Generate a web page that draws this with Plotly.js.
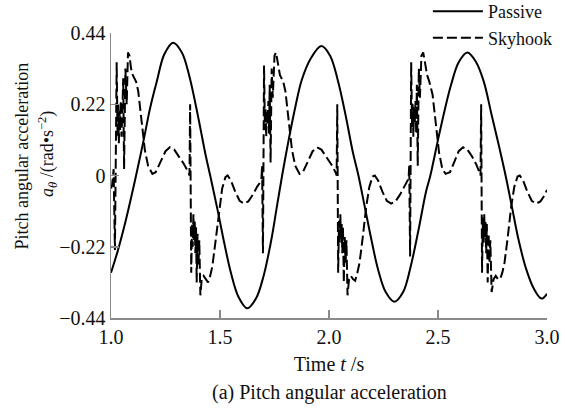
<!DOCTYPE html>
<html>
<head>
<meta charset="utf-8">
<script src="https://cdn.plot.ly/plotly-3.0.1.min.js"></script>
<style>html,body{margin:0;padding:0;background:#fff;}#chart{width:565px;height:410px;}</style>
</head>
<body>
<div id="chart"></div>
<script>
// Passive series (time, pitch angular acceleration)
const passiveT = [1.00,1.03,1.06,1.09,1.115,1.15,1.18,1.21,1.245,1.285,1.325,1.36,1.40,1.435,1.455,1.49,1.52,1.55,1.585,1.625,
  1.665,1.70,1.735,1.76,1.785,1.815,1.845,1.875,1.915,1.965,2.005,2.04,2.075,2.11,2.135,2.165,2.195,2.225,2.26,2.30,
  2.34,2.375,2.41,2.445,2.465,2.50,2.53,2.56,2.595,2.635,2.675,2.71,2.745,2.78,2.81,2.84,2.87,2.905,2.94,2.975,3.00];
const passiveV = [-0.30,-0.235,-0.16,-0.075,0.00,0.11,0.21,0.29,0.375,0.41,0.38,0.305,0.18,0.06,0.00,-0.11,-0.21,-0.30,-0.375,-0.41,
  -0.38,-0.31,-0.20,-0.10,0.00,0.11,0.21,0.295,0.36,0.40,0.37,0.295,0.19,0.07,0.00,-0.10,-0.20,-0.29,-0.36,-0.39,
  -0.36,-0.28,-0.17,-0.05,0.00,0.11,0.20,0.28,0.35,0.38,0.35,0.29,0.19,0.09,0.00,-0.10,-0.20,-0.29,-0.35,-0.38,-0.365];

// Skyhook series
const skyT = [1.000,1.005,1.012,1.018,1.026,1.030,1.033,1.036,1.039,1.042,1.045,1.048,1.052,1.056,1.060,1.066,1.072,1.078,1.085,1.092,
  1.100,1.115,1.125,1.140,1.155,1.170,1.190,1.205,1.225,1.250,1.270,1.290,1.310,1.335,1.355,
  1.360,1.363,1.368,1.372,1.375,1.378,1.381,1.384,1.387,1.390,1.393,1.397,1.401,1.405,1.410,1.416,1.425,1.435,1.445,1.455,1.465,
  1.480,1.495,1.510,1.525,1.535,1.550,1.570,1.590,1.610,1.630,1.650,1.670,1.685,
  1.690,1.693,1.697,1.702,1.706,1.709,1.712,1.715,1.718,1.722,1.725,1.728,1.732,1.737,1.742,1.750,1.757,1.765,1.775,1.790,
  1.800,1.815,1.830,1.845,1.865,1.880,1.900,1.925,1.945,1.965,1.985,2.010,2.030,
  2.035,2.038,2.042,2.046,2.049,2.052,2.055,2.058,2.061,2.064,2.068,2.072,2.076,2.080,2.085,2.092,2.100,2.110,2.120,2.130,2.140,
  2.155,2.170,2.185,2.200,2.210,2.225,2.245,2.265,2.285,2.305,2.325,2.345,2.360,
  2.365,2.368,2.372,2.377,2.381,2.384,2.387,2.390,2.393,2.397,2.400,2.403,2.407,2.412,2.417,2.424,2.432,2.440,2.450,2.460,
  2.475,2.490,2.505,2.520,2.535,2.555,2.575,2.595,2.615,2.635,2.655,2.675,2.690,
  2.695,2.698,2.702,2.706,2.709,2.712,2.715,2.718,2.721,2.724,2.728,2.732,2.736,2.740,2.746,2.755,2.765,2.775,2.785,2.795,2.805,
  2.820,2.835,2.850,2.865,2.875,2.890,2.910,2.930,2.950,2.970,2.985,3.000];
const skyV = [-0.04,-0.03,0.02,-0.23,0.35,0.12,0.22,0.10,0.20,0.14,0.23,0.12,0.19,0.30,0.02,0.33,0.22,0.38,0.37,0.33,
  0.31,0.29,0.26,0.17,0.08,0.03,0.005,0.01,0.04,0.075,0.087,0.08,0.06,0.035,0.01,
  0.00,0.22,-0.30,-0.15,-0.22,-0.12,-0.20,-0.14,-0.24,-0.16,-0.33,-0.18,-0.28,-0.20,-0.37,-0.32,-0.31,-0.32,-0.33,-0.31,-0.28,
  -0.20,-0.11,-0.04,-0.005,0.00,-0.015,-0.05,-0.078,-0.087,-0.08,-0.06,-0.035,-0.02,
  -0.01,0.03,-0.24,0.34,0.14,0.21,0.12,0.20,0.16,0.23,0.13,0.28,0.04,0.33,0.24,0.37,0.38,0.35,0.31,0.29,
  0.26,0.17,0.08,0.03,0.005,0.01,0.04,0.075,0.087,0.08,0.06,0.035,0.01,
  0.00,0.22,-0.30,-0.14,-0.21,-0.12,-0.20,-0.15,-0.24,-0.16,-0.33,-0.19,-0.27,-0.20,-0.37,-0.32,-0.31,-0.32,-0.325,-0.30,-0.27,
  -0.19,-0.10,-0.035,-0.003,0.00,-0.015,-0.05,-0.078,-0.087,-0.08,-0.06,-0.035,-0.02,
  -0.01,0.03,-0.25,0.35,0.15,0.22,0.12,0.21,0.16,0.23,0.13,0.28,0.03,0.33,0.24,0.37,0.38,0.35,0.31,0.29,
  0.25,0.16,0.07,0.02,0.005,0.01,0.04,0.075,0.087,0.08,0.06,0.035,0.01,
  0.00,0.22,-0.30,-0.13,-0.21,-0.12,-0.19,-0.14,-0.24,-0.15,-0.33,-0.18,-0.27,-0.20,-0.36,-0.32,-0.31,-0.32,-0.32,-0.30,-0.27,
  -0.19,-0.10,-0.035,-0.003,0.00,-0.015,-0.05,-0.078,-0.087,-0.08,-0.065,-0.045];

const yTickVals = [-0.44,-0.22,0,0.22,0.44];
const yTickText = ["\u22120.44","\u22120.22","0","0.22","0.44"];
const xTickVals = [1.0,1.5,2.0,2.5,3.0];
const xTickText = ["1.0","1.5","2.0","2.5","3.0"];

const font = "Liberation Serif";
const axisGray = "#8a8a8a";

const traces = [
  {x: passiveT, y: passiveV, name: "Passive", type: "scatter", mode: "lines",
   line: {color: "#000", width: 2, shape: "spline", smoothing: 1}},
  {x: skyT, y: skyV, name: "Skyhook", type: "scatter", mode: "lines",
   line: {color: "#000", width: 2, dash: "10px,4px"}}
];

const layout = {
  width: 565, height: 410,
  margin: {l: 111, r: 18, t: 33, b: 92, autoexpand: false},
  paper_bgcolor: "#fff", plot_bgcolor: "#fff",
  font: {family: font, size: 20, color: "#111"},
  showlegend: true,
  legend: {x: 1.025, xanchor: "right", y: 1.14, yanchor: "top",
    bgcolor: "rgba(0,0,0,0)", font: {family: font, size: 18, color: "#111"},
    itemwidth: 50, tracegroupgap: 0},
  xaxis: {range: [1.0, 3.0], tickvals: xTickVals, ticktext: xTickText,
    showgrid: false, zeroline: false, showline: true, linecolor: axisGray, linewidth: 1.5,
    ticks: "inside", ticklen: 8, tickwidth: 1.5, tickcolor: axisGray,
    tickfont: {family: font, size: 20, color: "#111"},
    title: {text: "Time <i>t</i> /s", font: {family: font, size: 20, color: "#111"}, standoff: 10}},
  yaxis: {range: [-0.44, 0.44], tickvals: yTickVals, ticktext: yTickText,
    showgrid: false, zeroline: false, showline: true, linecolor: axisGray, linewidth: 1.5,
    ticks: "inside", ticklen: 8, tickwidth: 1.5, tickcolor: axisGray,
    tickfont: {family: font, size: 20, color: "#111"}},
  annotations: [
    {text: "Pitch angular acceleration", xref: "paper", yref: "paper",
     x: -0.203, y: 0.568, xanchor: "center", yanchor: "middle", textangle: -90, showarrow: false,
     font: {family: font, size: 18, color: "#111"}},
    {text: "<i>a<sub>θ</sub></i> /(rad\u2022s<sup>\u22122</sup>)", xref: "paper", yref: "paper",
     x: -0.147, y: 0.575, xanchor: "center", yanchor: "middle", textangle: -90, showarrow: false,
     font: {family: font, size: 18, color: "#111"}},
    {text: "(a) Pitch angular acceleration", xref: "paper", yref: "paper",
     x: 0.5, y: -0.26, xanchor: "center", yanchor: "middle", showarrow: false,
     font: {family: font, size: 20, color: "#111"}}
  ]
};

Plotly.newPlot("chart", traces, layout, {displayModeBar: false, staticPlot: true});
</script>
</body>
</html>
